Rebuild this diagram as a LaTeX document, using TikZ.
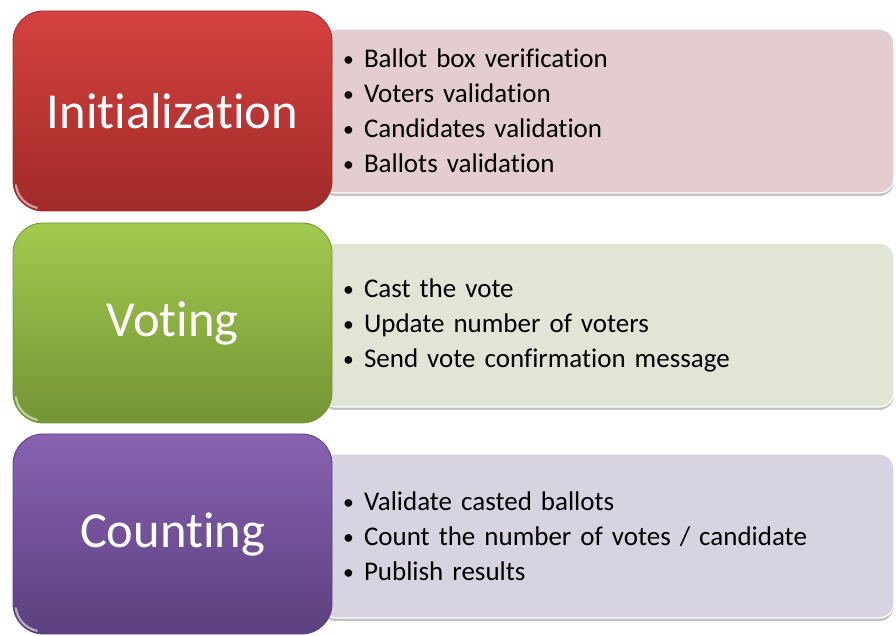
\documentclass[tikz,border=0pt]{standalone}
\usepackage{fontspec}
\setmainfont{Carlito}[Ligatures=NoCommon]
\usepackage{xcolor}
\usepackage{tikz}
\usetikzlibrary{positioning, backgrounds, shadows}

\definecolor{redtop}{RGB}{212,66,64}
\definecolor{redbot}{RGB}{160,42,40}
\definecolor{redpale}{RGB}{227,205,206}
\definecolor{greentop}{RGB}{162,202,78}
\definecolor{greenbot}{RGB}{116,148,54}
\definecolor{greenpale}{RGB}{224,229,213}
\definecolor{purptop}{RGB}{136,98,178}
\definecolor{purpbot}{RGB}{92,64,126}
\definecolor{purppale}{RGB}{215,211,224}

\newcommand{\pt}[1]{\makebox[21pt][l]{\raisebox{1pt}{\scalebox{0.8}{\textbullet}}}#1}

\begin{document}
\begin{tikzpicture}[x=1pt, y=1pt,
  phase/.style={rectangle, rounded corners=30pt, minimum width=319pt, minimum height=200pt,
    text=white, font=\fontsize{50.5}{60}\selectfont, line width=0.8pt},
  detail/.style={rectangle, rounded corners=15pt, minimum height=164pt, text width=529pt,
    inner xsep=22pt, align=left, draw=white, line width=1.2pt,
    font=\fontsize{27}{35}\selectfont,
    drop shadow={shadow xshift=0pt, shadow yshift=-3pt, opacity=0.35, fill=black!70}},
  gloss/.style={white, line width=2.2pt, opacity=0.55, line cap=round}]
  \useasboundingbox (0,0) rectangle (896,636);

  % the three phases
  \node[phase, top color=redtop, bottom color=redbot, draw=redbot] (init) at (172.5,525) {Initialization};
  \node[phase, top color=greentop, bottom color=greenbot, draw=greenbot] (vote) at (172.5,313) {Voting};
  \node[phase, top color=purptop, bottom color=purpbot, draw=purpbot] (count) at (172.5,102) {Counting};

  % glossy rim at the lower left corners
  \foreach \p in {init, vote, count}
    \draw[gloss] ([shift={(30pt,30pt)}]\p.south west) ++(188:27pt) arc[start angle=188, end angle=258, radius=27pt];

  % task lists, behind the phases
  \begin{scope}[on background layer]
    \node[detail, fill=redpale, right=-12pt of init] (initlist) {%
      \pt{Ballot box verification}\\\pt{Voters validation}\\\pt{Candidates validation}\\\pt{Ballots validation}};
    \node[detail, fill=greenpale, right=-12pt of vote, yshift=-2pt] (votelist) {%
      \pt{Cast the vote}\\\pt{Update number of voters}\\\pt{Send vote confirmation message}};
    \node[detail, fill=purppale, right=-12pt of count, yshift=-2pt] (countlist) {%
      \pt{Validate casted ballots}\\\pt{Count the number of votes / candidate}\\\pt{Publish results}};
  \end{scope}
\end{tikzpicture}
\end{document}
